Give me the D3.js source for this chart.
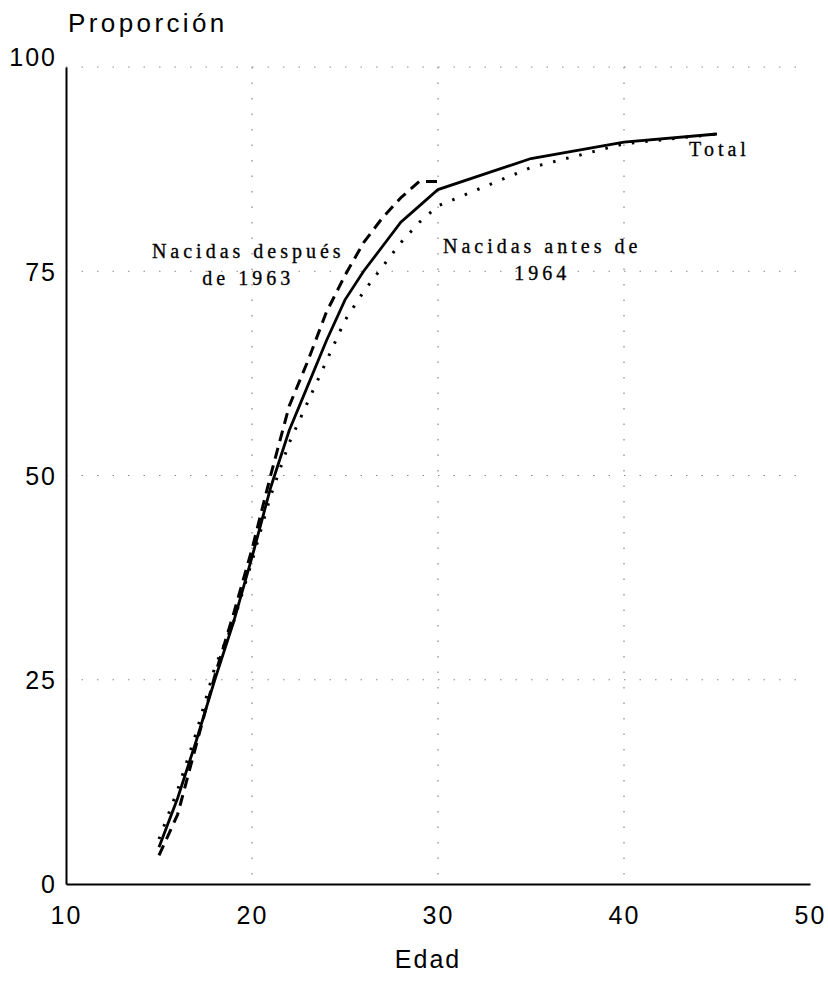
<!DOCTYPE html>
<html>
<head>
<meta charset="utf-8">
<script src="https://cdn.jsdelivr.net/npm/d3@7"></script>
<style>
  html, body { margin: 0; padding: 0; background: #fff; }
  svg { display: block; }
</style>
</head>
<body>
<svg id="chart" width="828" height="987"></svg>
<script>
// ---- data ----
const ages = [15, 16, 17, 18, 19, 20, 21, 22, 23, 24, 25, 26, 27, 28, 29, 30, 35, 40, 45];
const total = [4.5, 10.5, 17.5, 25, 32, 40, 48.5, 55.5, 61, 66.5, 71.5, 75, 78, 81, 83, 85, 88.8, 90.8, 91.8];
const agesDespues = [15, 16, 17, 18, 19, 20, 21, 22, 23, 24, 25, 26, 27, 28, 29, 30];
const despues = [3.5, 8.5, 17, 25.5, 33, 41, 50, 58.5, 64, 70, 74.5, 78.5, 81.5, 84, 86, 86];
const agesAntes = [15, 16, 17, 18, 19, 20, 21, 22, 23, 24, 25, 26, 27, 28, 29, 30, 35, 40, 45];
const antes = [5.5, 11.5, 18.5, 26.5, 32, 39.5, 47.5, 54, 59, 64, 69, 72.5, 75.5, 78.5, 81, 83, 87.7, 90.6, 91.8];
const xTicks = [10, 20, 30, 40, 50];
const yTicks = [0, 25, 50, 75, 100];
const xGrid = [20, 30, 40];
const yGrid = [25, 50, 75, 100];
const labels = [
  { lines: ["Nacidas después", "de 1963"], x: 19.8, y: 76.6 },
  { lines: ["Nacidas antes de", "1964"], x: 35.6, y: 77.2 },
  { lines: ["Total"], x: 43.5, y: 89.1 }
];

// ---- chart ----
const svg = d3.select("#chart");
const x = d3.scaleLinear().domain([10, 50]).range([66, 810]);
const y = d3.scaleLinear().domain([0, 100]).range([884, 67]);

// grid
const grid = svg.append("g").attr("stroke", "#888").attr("stroke-width", 1.2)
  .attr("stroke-dasharray", "1.5,14");
grid.selectAll("line.v").data(xGrid).join("line")
  .attr("x1", d => x(d)).attr("x2", d => x(d))
  .attr("y1", y(100)).attr("y2", y(0));
grid.selectAll("line.h").data(yGrid).join("line")
  .attr("x1", x(10)).attr("x2", x(50))
  .attr("y1", d => y(d)).attr("y2", d => y(d));

// axes
const xAxis = d3.axisBottom(x).tickValues(xTicks).tickSize(0).tickPadding(22).tickFormat(d3.format("d"));
const yAxis = d3.axisLeft(y).tickValues(yTicks).tickSize(0).tickPadding(9).tickFormat(d3.format("d"));
const gx = svg.append("g").attr("transform", `translate(0,${y(0)})`).call(xAxis);
const gy = svg.append("g").attr("transform", `translate(${x(10)},0)`).call(yAxis);
[gx, gy].forEach(g => {
  g.select(".domain").attr("stroke", "#000").attr("stroke-width", 2);
  g.selectAll("text").attr("font-family", "'Liberation Sans', Arial, sans-serif")
    .attr("font-size", 25).attr("letter-spacing", "2px").attr("fill", "#000");
});
gy.selectAll("text").attr("dy", "0.35em");
gy.selectAll(".tick").filter(d => d === 100).select("text").attr("dy", "-0.05em");

// lines
const line = (xs) => d3.line().x((d, i) => x(xs[i])).y(d => y(d));
svg.append("path").datum(antes).attr("d", line(agesAntes))
  .attr("fill", "none").attr("stroke", "#000").attr("stroke-width", 3)
  .attr("stroke-dasharray", "2.5,11");
svg.append("path").datum(despues).attr("d", line(agesDespues))
  .attr("fill", "none").attr("stroke", "#000").attr("stroke-width", 3)
  .attr("stroke-dasharray", "11,7");
svg.append("path").datum(total).attr("d", line(ages))
  .attr("fill", "none").attr("stroke", "#000").attr("stroke-width", 2.8);

// annotations
labels.forEach(l => {
  const t = svg.append("text")
    .attr("font-family", "'Liberation Serif', 'Times New Roman', serif")
    .attr("font-size", 20).attr("letter-spacing", "4px")
    .attr("stroke", "#000").attr("stroke-width", 0.3)
    .attr("text-anchor", l.lines.length > 1 ? "middle" : "start")
    .attr("fill", "#000");
  l.lines.forEach((s, i) => {
    t.append("tspan").attr("x", x(l.x)).attr("y", y(l.y) + i * 27).text(s);
  });
});

// axis titles
svg.append("text").attr("x", 68).attr("y", 32)
  .attr("font-family", "'Liberation Sans', Arial, sans-serif").attr("font-size", 26)
  .attr("letter-spacing", "3.4px").text("Proporción");
svg.append("text").attr("x", 428).attr("y", 968).attr("text-anchor", "middle")
  .attr("font-family", "'Liberation Sans', Arial, sans-serif").attr("font-size", 25)
  .attr("letter-spacing", "2px").text("Edad");
</script>
</body>
</html>
